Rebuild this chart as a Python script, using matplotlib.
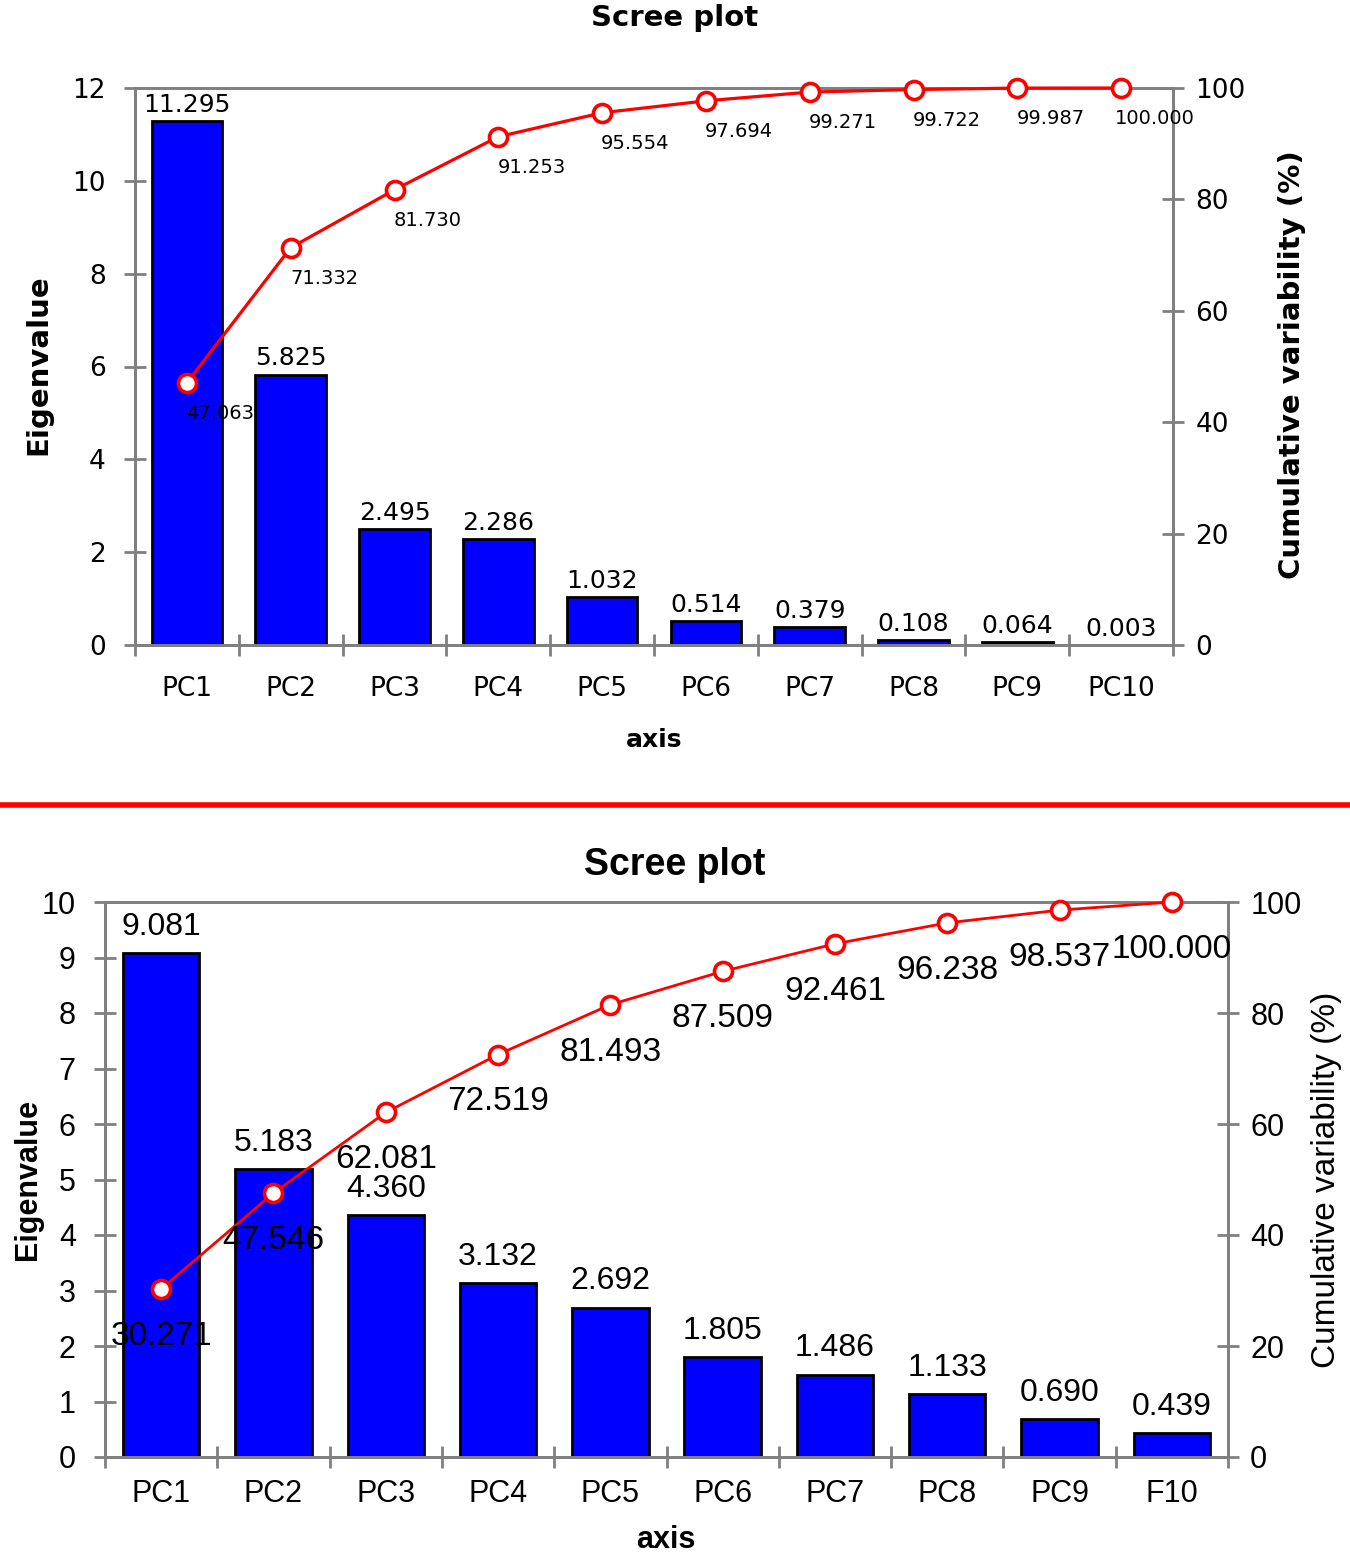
import matplotlib
matplotlib.use("Agg")
import matplotlib.pyplot as plt
from matplotlib.lines import Line2D
import numpy as np

# ---- data ----
top_cats = ["PC1", "PC2", "PC3", "PC4", "PC5", "PC6", "PC7", "PC8", "PC9", "PC10"]
top_eigen = [11.295, 5.825, 2.495, 2.286, 1.032, 0.514, 0.379, 0.108, 0.064, 0.003]
top_cum = [47.063, 71.332, 81.730, 91.253, 95.554, 97.694, 99.271, 99.722, 99.987, 100.000]

bot_cats = ["PC1", "PC2", "PC3", "PC4", "PC5", "PC6", "PC7", "PC8", "PC9", "F10"]
bot_eigen = [9.081, 5.183, 4.360, 3.132, 2.692, 1.805, 1.486, 1.133, 0.690, 0.439]
bot_cum = [30.271, 47.546, 62.081, 72.519, 81.493, 87.509, 92.461, 96.238, 98.537, 100.000]

top_yticks = [0, 2, 4, 6, 8, 10, 12]
bot_yticks = [0, 1, 2, 3, 4, 5, 6, 7, 8, 9, 10]
cum_ticks = [0, 20, 40, 60, 80, 100]

W, H = 1350, 1559
fig = plt.figure(figsize=(W / 100, H / 100), dpi=100)
GRAY = "#808080"


def setup(ax, ax2, cats, eigen, cum, ymax, yticks, font, tick_fs, bar_fs, cum_fs,
          cum_offset, cum_ha, cum_va, bar_off, lw, xpad, ypad):
    x = np.arange(len(cats))
    ax.bar(x, eigen, width=0.68, color="#0000FF", edgecolor="black", linewidth=2.0, zorder=2)
    ax.set_xlim(-0.5, len(cats) - 0.5)
    ax.set_ylim(0, ymax)
    ax.set_yticks(yticks)
    ax.set_yticklabels([str(t) for t in yticks], family=font, fontsize=tick_fs)
    ax.set_xticks(x)
    ax.set_xticklabels(cats, family=font, fontsize=tick_fs)
    ax.set_xticks(np.arange(len(cats) + 1) - 0.5, minor=True)
    ax.tick_params(axis="x", which="major", length=0, pad=xpad)
    ax.tick_params(axis="x", which="minor", direction="inout", length=16, width=2, color=GRAY)
    ax.tick_params(axis="y", which="major", direction="inout", length=16, width=2, color=GRAY, pad=ypad)
    for s in ax.spines.values():
        s.set_color(GRAY)
        s.set_linewidth(2)
    for xi, v in zip(x, eigen):
        ax.annotate(f"{v:.3f}", (xi, v), xytext=(0, bar_off), textcoords="offset points",
                    ha="center", va="bottom", family=font, fontsize=bar_fs, zorder=5)

    ax2.set_ylim(0, 100)
    ax2.set_yticks(cum_ticks)
    ax2.set_yticklabels([str(t) for t in cum_ticks], family=font, fontsize=tick_fs)
    ax2.tick_params(axis="y", which="major", direction="inout", length=16, width=2, color=GRAY, pad=8)
    for s in ax2.spines.values():
        s.set_color(GRAY)
        s.set_linewidth(2)
    ax2.plot(x, cum, color="#FF0000", linewidth=lw, marker="o", markersize=13,
             markerfacecolor="white", markeredgecolor="#FF0000", markeredgewidth=2.6,
             zorder=4, clip_on=False)
    for xi, v in zip(x, cum):
        ax2.annotate(f"{v:.3f}", (xi, v), xytext=cum_offset, textcoords="offset points",
                     ha=cum_ha, va=cum_va, family=font, fontsize=cum_fs, zorder=5)


# ---- top chart ----
ax1 = fig.add_axes([135 / W, 1 - 645 / H, (1173 - 135) / W, (645 - 88) / H])
ax1b = ax1.twinx()
setup(ax1, ax1b, top_cats, top_eigen, top_cum, 12, top_yticks, "DejaVu Sans",
      19, 18, 14, (24, -22), "center", "center", 3, 2.3, 22, 13)

fig.text(675 / W, 1 - 18 / H, "Scree plot", ha="center", va="center",
         family="DejaVu Sans", fontweight="bold", fontsize=21)
fig.text(38 / W, 1 - 365 / H, "Eigenvalue", ha="center", va="center", rotation=90,
         family="DejaVu Sans", fontweight="bold", fontsize=21)
fig.text(1292 / W, 1 - 365 / H, "Cumulative variability (%)", ha="center", va="center",
         rotation=90, family="DejaVu Sans", fontweight="bold", fontsize=21)
fig.text(654 / W, 1 - 740 / H, "axis", ha="center", va="center",
         family="DejaVu Sans", fontweight="bold", fontsize=18)

# ---- separator ----
fig.add_artist(Line2D([2 / W, 1.0], [1 - 805 / H, 1 - 805 / H], color="#FF0000",
                      linewidth=4, transform=fig.transFigure))

# ---- bottom chart ----
ax2 = fig.add_axes([105 / W, 1 - 1457 / H, (1228 - 105) / W, (1457 - 902) / H])
ax2b = ax2.twinx()
setup(ax2, ax2b, bot_cats, bot_eigen, bot_cum, 10, bot_yticks, "Liberation Sans",
      22, 23, 24, (0, -23), "center", "top", 8, 2.0, 16, 13)

fig.text(675 / W, 1 - 865 / H, "Scree plot", ha="center", va="center",
         family="Liberation Sans", fontweight="bold", fontsize=27)
fig.text(28 / W, 1 - 1180 / H, "Eigenvalue", ha="center", va="center", rotation=90,
         family="Liberation Sans", fontweight="bold", fontsize=22)
fig.text(1326 / W, 1 - 1180 / H, "Cumulative variability (%)", ha="center", va="center",
         rotation=90, family="Liberation Sans", fontsize=24)
fig.text(666 / W, 1 - 1540 / H, "axis", ha="center", va="center",
         family="Liberation Sans", fontweight="bold", fontsize=22)

fig.savefig("out.png", dpi=100)
